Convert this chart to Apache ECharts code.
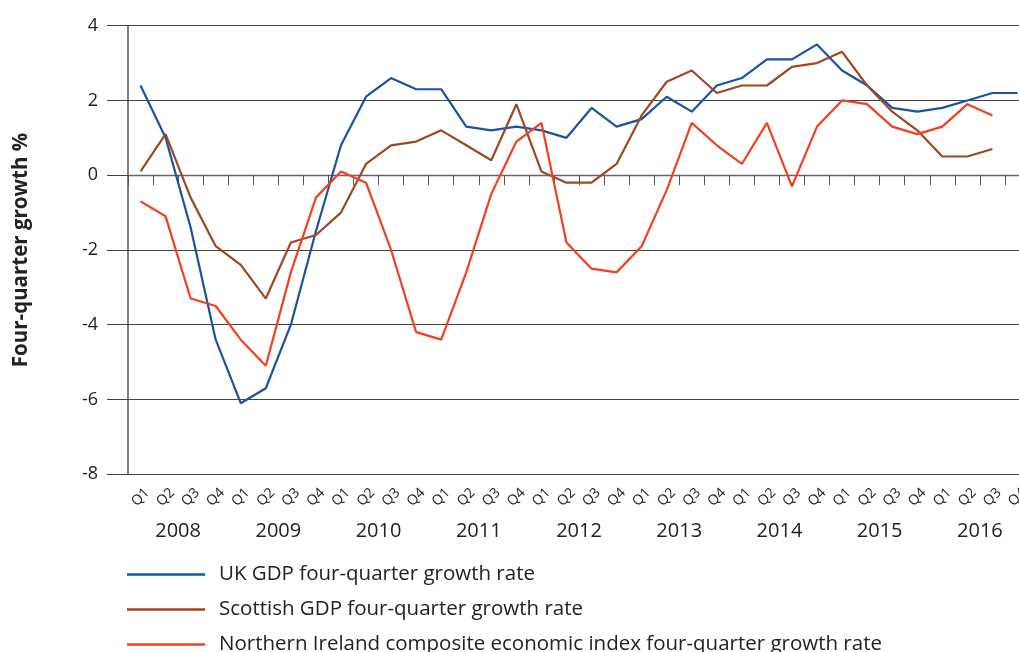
<!DOCTYPE html>
<html>
<head>
<meta charset="utf-8">
<script src="https://cdn.jsdelivr.net/npm/echarts@6/dist/echarts.min.js"></script>
<style>
html,body{margin:0;padding:0;background:#fff;}
#chart{width:1019px;height:652px;}
</style>
</head>
<body>
<div id="chart"></div>
<script>
const years = ['2008','2009','2010','2011','2012','2013','2014','2015','2016'];
const quarters = ['Q1','Q2','Q3','Q4'];
const yTicks = {min: -8, max: 4, interval: 2};
const ukGDP = [2.4, 1.0, -1.4, -4.4, -6.1, -5.7, -4.0, -1.5, 0.8, 2.1, 2.6, 2.3, 2.3, 1.3, 1.2, 1.3, 1.2, 1.0, 1.8, 1.3, 1.5, 2.1, 1.7, 2.4, 2.6, 3.1, 3.1, 3.5, 2.8, 2.4, 1.8, 1.7, 1.8, 2.0, 2.2, 2.2];
const scotGDP = [0.1, 1.1, -0.6, -1.9, -2.4, -3.3, -1.8, -1.6, -1.0, 0.3, 0.8, 0.9, 1.2, 0.8, 0.4, 1.9, 0.1, -0.2, -0.2, 0.3, 1.6, 2.5, 2.8, 2.2, 2.4, 2.4, 2.9, 3.0, 3.3, 2.4, 1.7, 1.2, 0.5, 0.5, 0.7, null];
const niIndex = [-0.7, -1.1, -3.3, -3.5, -4.4, -5.1, -2.6, -0.6, 0.1, -0.2, -2.0, -4.2, -4.4, -2.6, -0.5, 0.9, 1.4, -1.8, -2.5, -2.6, -1.9, -0.4, 1.4, 0.8, 0.3, 1.4, -0.3, 1.3, 2.0, 1.9, 1.3, 1.1, 1.3, 1.9, 1.6, null];
const seriesNames = ['UK GDP four-quarter growth rate', 'Scottish GDP four-quarter growth rate', 'Northern Ireland composite economic index four-quarter growth rate'];
const seriesColors = ['#1a53a2', '#9e4822', '#f23f1f'];

const categories = [];
years.forEach(y => quarters.forEach(q => categories.push(q + ' ' + y)));

const FONT = '"Open Sans"';
const chart = echarts.init(document.getElementById('chart'), null, {renderer: 'canvas'});
const dataSets = [ukGDP, scotGDP, niIndex];

chart.setOption({
  animation: false,
  backgroundColor: '#fff',
  textStyle: {fontFamily: FONT, color: '#222'},
  grid: {left: 128, top: 25.7, height: 448.5, width: 902, containLabel: false, outerBoundsMode: 'none'},
  legend: {
    orient: 'vertical',
    left: 127,
    top: 564,
    height: 120,
    width: 890,
    padding: 0,
    itemWidth: 78,
    itemHeight: 2.5,
    itemGap: 14,
    icon: 'rect',
    textStyle: {fontFamily: FONT, fontSize: 20.5, color: '#222', lineHeight: 20, padding: [0, 0, 0, 9]},
    data: seriesNames
  },
  xAxis: [{
    type: 'category',
    data: categories,
    boundaryGap: true,
    axisLine: {show: true, lineStyle: {color: '#666', width: 1.3}},
    axisTick: {show: true, length: 10, interval: 0, lineStyle: {color: '#555', width: 1}},
    axisLabel: {
      interval: 0, rotate: 45, fontSize: 14, color: '#222', fontFamily: FONT, margin: 23,
      align: 'center', verticalAlign: 'middle',
      formatter: v => v.split(' ')[0]
    },
    splitLine: {show: false}
  }, {
    type: 'category',
    data: years,
    boundaryGap: true,
    position: 'bottom',
    axisLine: {show: false},
    axisTick: {show: false},
    axisLabel: {interval: 0, fontSize: 20, color: '#222', fontFamily: FONT, margin: 47},
    splitLine: {show: false}
  }],
  yAxis: {
    type: 'value',
    min: yTicks.min,
    max: yTicks.max,
    interval: yTicks.interval,
    name: 'Four-quarter growth %',
    nameLocation: 'middle',
    nameGap: 96,
    nameTextStyle: {fontFamily: FONT, fontSize: 20.5, fontWeight: 'bold', color: '#222'},
    axisLine: {show: true, lineStyle: {color: '#555', width: 1.5}},
    axisTick: {show: true, length: 21, inside: false, lineStyle: {color: '#444', width: 1}},
    axisLabel: {fontSize: 18, color: '#222', fontFamily: FONT, margin: 30},
    splitLine: {show: true, lineStyle: {color: '#444', width: 1}}
  },
  series: dataSets.map((d, i) => ({
    name: seriesNames[i],
    type: 'line',
    data: d,
    symbol: 'none',
    xAxisIndex: 0,
    color: seriesColors[i],
    lineStyle: {color: seriesColors[i], width: 2.2},
    itemStyle: {color: seriesColors[i]},
    connectNulls: false
  }))
});
</script>
</body>
</html>
